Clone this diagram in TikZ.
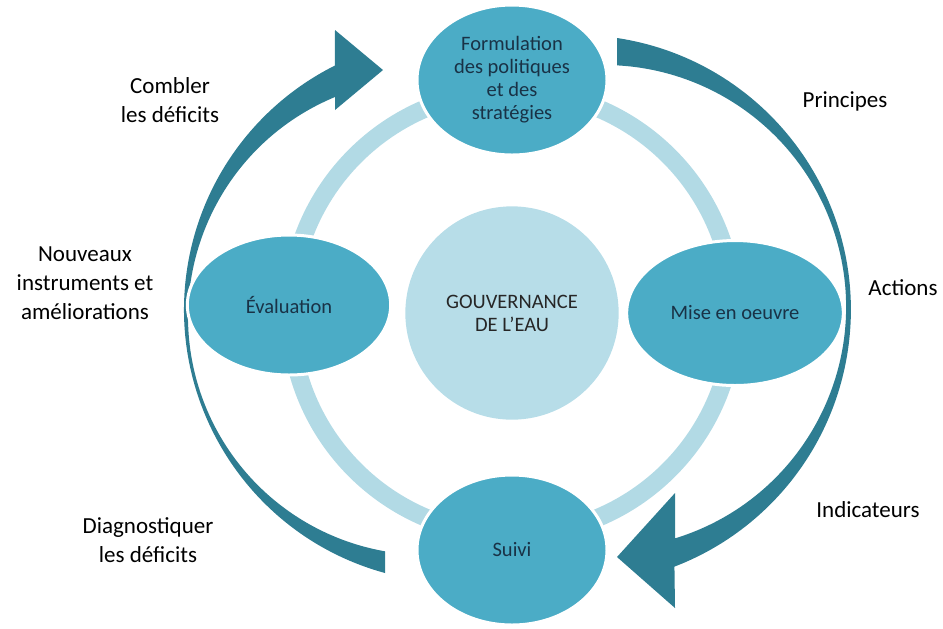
\documentclass[tikz,border=0pt]{standalone}
\usepackage{fontspec}
\setmainfont{Carlito}
\usetikzlibrary{shapes.geometric,positioning}
\definecolor{aqua}{RGB}{75,172,198}
\definecolor{aquadark}{RGB}{46,125,146}
\definecolor{aqualight}{RGB}{178,218,229}
\definecolor{aquapale}{RGB}{183,221,232}
\definecolor{inktext}{RGB}{25,50,70}

\begin{document}
\begin{tikzpicture}[x=0.6pt,y=-0.6pt,node distance=138pt,
  stage/.style={ellipse,fill=aqua,draw=white,line width=1.8pt,text=inktext,align=center,inner sep=0pt,
    font=\fontsize{12.3}{13.8}\selectfont},
  core/.style={circle,fill=aquapale,minimum size=128pt,align=center,text=black!85,
    font=\fontsize{12.3}{13.8}\selectfont},
  note/.style={align=center,font=\fontsize{13.8}{17.4}\selectfont},
  bigarrow/.style={fill=aquadark}]
\useasboundingbox (0,0) rectangle (943,628);
\draw[aqualight,line width=10.8pt] (512,313) circle[radius=222];
\node[core] (gov) at (512,313) {GOUVERNANCE\\DE L’EAU};
\fill[bigarrow] (617,38) arc[start angle=-81.4,end angle=69,radius=275] -- (675,608) -- (617,557)
  -- (675,493) -- (675.2,538.3) arc[start angle=72.9,end angle=-86.9,radius=242] -- cycle;
\fill[bigarrow] (385,573) arc[start angle=105.3,end angle=243.4,radius=273] -- (335,30) -- (383,70)
  -- (335,110) -- (335,97) arc[start angle=247.5,end angle=99.9,radius=238] -- cycle;
\node[stage,minimum width=114pt,minimum height=90pt] (form) [above of=gov,yshift=1.8pt]
  {Formulation\\des politiques\\et des\\stratégies};
\node[stage,minimum width=122pt,minimum height=84pt] (eval) [left of=gov,xshift=4.2pt,yshift=4.8pt] {Évaluation};
\node[stage,minimum width=130pt,minimum height=87pt] (mise) [right of=gov,xshift=-4.2pt] {Mise en oeuvre};
\node[stage,minimum width=114pt,minimum height=90pt] (suivi) [below of=gov,yshift=-4.2pt] {Suivi};
\node[note] (fill) at (170,100) {Combler\\les déficits};
\node[note] (tools) at (85,283) {Nouveaux\\instruments et\\améliorations};
\node[note] (diag) at (148,540) {Diagnostiquer\\les déficits};
\node[note] (princ) at (845,101) {Principes};
\node[note] (act) at (903,288) {Actions};
\node[note] (ind) at (868,510) {Indicateurs};
\end{tikzpicture}
\end{document}
